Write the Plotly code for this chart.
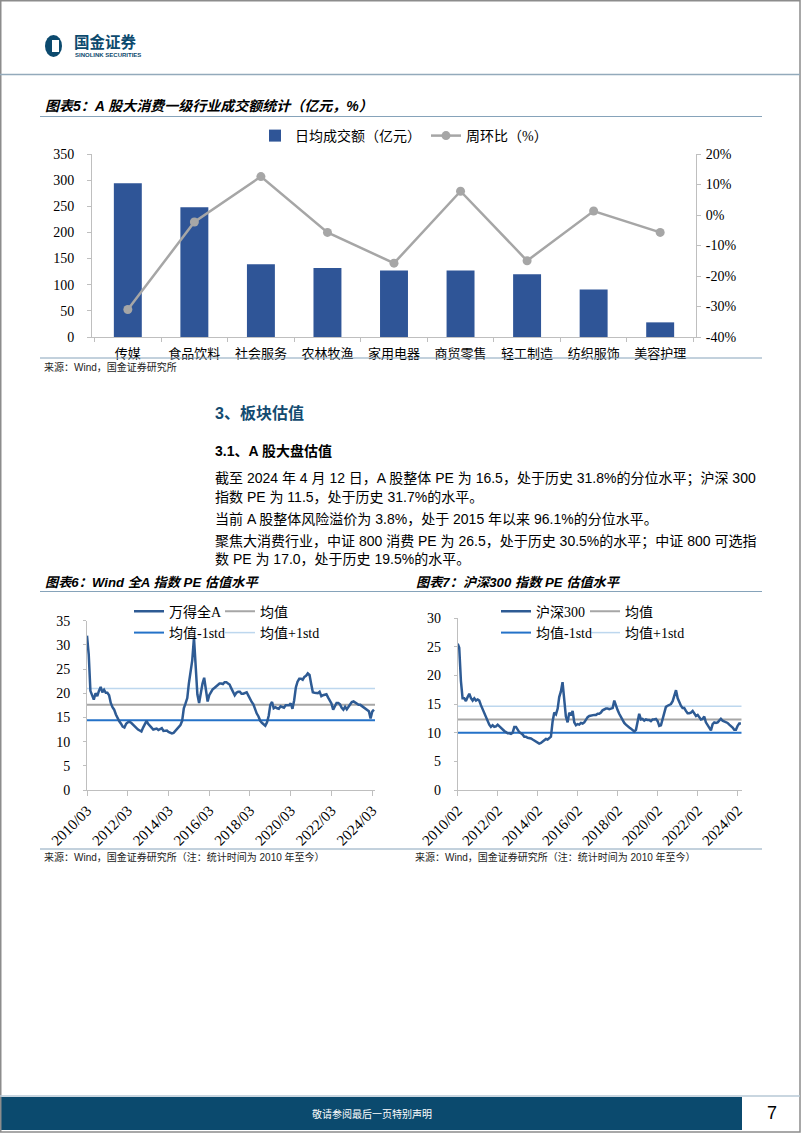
import plotly.graph_objects as go
import pandas as pd

W, H = 802, 1133

# ---------------- Chart 5 data ----------------
industries = ["传媒", "食品饮料", "社会服务", "农林牧渔", "家用电器", "商贸零售", "轻工制造", "纺织服饰", "美容护理"]
daily_turnover = [294, 248, 139, 132, 127, 127, 120, 91, 28]          # 亿元
wow_change = [-31.0, -2.3, 12.6, -5.7, -15.8, 7.8, -15.0, 1.3, -5.7]   # %
left_tickvals = [0, 50, 100, 150, 200, 250, 300, 350]
right_tickvals = [-40, -30, -20, -10, 0, 10, 20]
right_ticktext = ["-40%", "-30%", "-20%", "-10%", "0%", "10%", "20%"]

# ---------------- Chart 6 data (Wind 全A PE, monthly from 2010/03) ----------------
wind_start = "2010-03-01"
wind_pe = [
    31.9, 28.0, 20.5, 19.6, 18.7, 20.0, 19.4, 20.5, 21.3, 20.2,
    20.7, 20.1, 20.1, 19.6, 18.0, 17.1, 16.6, 15.6, 14.7, 14.2,
    13.7, 13.1, 12.9, 13.7, 14.0, 14.1, 13.9, 13.5, 13.1, 12.8,
    12.5, 12.3, 12.1, 12.9, 13.6, 14.3, 13.7, 13.2, 12.9, 12.5,
    12.6, 12.7, 12.4, 12.6, 12.8, 12.2, 12.3, 12.3, 12.0, 11.8,
    11.7, 11.8, 12.2, 12.7, 13.1, 13.4, 14.3, 16.9, 17.9, 19.0,
    22.0, 25.0, 26.8, 31.5, 24.3, 19.8, 18.0, 20.5, 22.0, 23.2,
    20.3, 18.3, 19.6, 20.4, 20.8, 21.1, 21.4, 21.7, 22.0, 22.0,
    21.9, 22.3, 22.3, 22.0, 21.8, 21.0, 20.2, 19.6, 20.1, 20.3,
    20.3, 19.9, 19.9, 20.1, 20.2, 19.5, 18.7, 18.2, 17.7, 16.7,
    15.8, 15.2, 14.3, 13.9, 13.6, 13.3, 14.0, 15.4, 17.6, 18.2,
    16.9, 17.1, 16.9, 16.8, 17.3, 17.1, 17.0, 17.5, 17.5, 17.5,
    17.9, 16.8, 18.5, 21.2, 22.4, 23.0, 23.0, 22.8, 23.4, 23.6,
    24.1, 23.8, 22.0, 20.2, 20.1, 20.1, 20.0, 20.3, 19.4, 19.6,
    19.7, 19.8, 19.1, 18.6, 17.9, 16.6, 17.5, 18.0, 18.0, 17.7,
    17.0, 16.6, 17.2, 16.7, 17.2, 17.9, 18.2, 18.3, 18.1, 17.8,
    17.6, 17.6, 17.3, 17.1, 16.9, 16.6, 16.3, 14.8, 16.2, 16.6,
]
wind_mean, wind_minus_std, wind_plus_std = 17.6, 14.4, 21.0
wind_xrange = ["2010-03-01", "2024-04-20"]
wind_tickvals = ["2010-03-01", "2012-03-01", "2014-03-01", "2016-03-01",
                 "2018-03-01", "2020-03-01", "2022-03-01", "2024-03-01"]
wind_ticktext = ["2010/03", "2012/03", "2014/03", "2016/03",
                 "2018/03", "2020/03", "2022/03", "2024/03"]

# ---------------- Chart 7 data (沪深300 PE, monthly from 2010/02) ----------------
hs_start = "2010-02-01"
hs300_pe = [
    25.5, 24.8, 19.0, 16.0, 16.0, 15.5, 16.2, 16.8, 16.0, 15.6,
    16.0, 15.6, 15.8, 15.6, 14.8, 14.1, 13.6, 12.9, 11.9, 11.4,
    11.0, 11.3, 11.0, 11.1, 11.4, 11.1, 10.9, 10.6, 10.3, 10.1,
    9.9, 9.9, 9.8, 10.0, 11.0, 11.0, 10.5, 10.1, 9.9, 9.7,
    9.3, 9.3, 9.1, 9.1, 9.0, 8.8, 8.6, 8.5, 8.2, 8.1,
    8.2, 8.4, 8.6, 8.9, 8.8, 9.0, 9.3, 12.0, 13.5, 13.2,
    14.2, 16.2, 17.2, 18.8, 15.0, 12.8, 11.8, 13.5, 13.0, 13.8,
    11.8, 11.3, 11.5, 11.4, 11.7, 11.6, 11.8, 12.3, 12.7, 12.9,
    13.0, 13.0, 13.1, 13.1, 13.3, 13.3, 13.5, 13.9, 14.1, 14.2,
    14.2, 14.1, 14.2, 14.3, 15.6, 14.6, 13.9, 13.3, 12.7, 12.1,
    11.7, 11.4, 11.1, 10.9, 10.7, 10.4, 10.2, 10.5, 12.0, 13.3,
    12.3, 12.4, 12.1, 12.3, 12.2, 12.2, 12.0, 12.3, 12.3, 12.4,
    12.0, 11.2, 11.3, 12.3, 13.6, 14.5, 14.7, 14.8, 15.0, 15.5,
    16.5, 17.4, 16.0, 15.2, 14.7, 14.3, 14.3, 13.8, 13.4, 13.4,
    13.5, 13.8, 13.3, 12.9, 13.1, 12.8, 12.3, 12.4, 12.8, 11.8,
    11.3, 10.9, 10.4, 11.5, 11.8, 11.7, 11.8, 12.1, 12.4, 12.1,
    12.0, 11.9, 11.7, 11.4, 11.2, 10.9, 10.5, 10.5, 11.2, 11.6,
    11.6,
]
hs_mean, hs_minus_std, hs_plus_std = 12.3, 10.0, 14.6
hs_xrange = ["2010-02-01", "2024-04-15"]
hs_tickvals = ["2010-02-01", "2012-02-01", "2014-02-01", "2016-02-01",
               "2018-02-01", "2020-02-01", "2022-02-01", "2024-02-01"]
hs_ticktext = ["2010/02", "2012/02", "2014/02", "2016/02",
               "2018/02", "2020/02", "2022/02", "2024/02"]

wind_dates = pd.date_range(wind_start, periods=len(wind_pe), freq="MS")
hs_dates = pd.date_range(hs_start, periods=len(hs300_pe), freq="MS")

# ---------------- helpers ----------------
def X(px):
    return px / W

def Y(py):
    return 1 - py / H

SERIF = "Liberation Serif, Noto Sans CJK SC"
SANS = "Liberation Sans, Noto Sans CJK SC"
CJK = "Noto Sans CJK SC"
NAVY = "#0C4A6E"
RULE = "#86A3BA"
AXIS = "#BFBFBF"
SERIES = "#2E5B94"
MEANC = "#A6A6A6"
MINUSC = "#2472C8"
PLUSC = "#BDD7EE"

fig = go.Figure()

# ---------------- Chart 5 traces ----------------
fig.add_trace(go.Bar(x=industries, y=daily_turnover, name="日均成交额（亿元）",
                     marker=dict(color="#2F5597", line=dict(width=0)), width=0.42,
                     xaxis="x", yaxis="y", legend="legend"))
fig.add_trace(go.Scatter(x=industries, y=wow_change, name="周环比（%）", mode="lines+markers",
                         line=dict(color=MEANC, width=2.5), marker=dict(size=9, color=MEANC),
                         xaxis="x", yaxis="y2", legend="legend"))

# ---------------- Chart 6 / 7 traces ----------------
def hline_trace(xr, val, name, color, width, xa, ya, lg):
    return go.Scatter(x=xr, y=[val, val], mode="lines", name=name,
                      line=dict(color=color, width=width), xaxis=xa, yaxis=ya,
                      legend=lg, hoverinfo="skip")

fig.add_trace(hline_trace(wind_xrange, wind_plus_std, "均值+1std", PLUSC, 1.5, "x3", "y3", "legend5"))
fig.add_trace(hline_trace(wind_xrange, wind_mean, "均值", MEANC, 2, "x3", "y3", "legend3"))
fig.add_trace(hline_trace(wind_xrange, wind_minus_std, "均值-1std", MINUSC, 2, "x3", "y3", "legend4"))
fig.add_trace(go.Scatter(x=wind_dates, y=wind_pe, mode="lines", name="万得全A",
                         line=dict(color=SERIES, width=2.5), xaxis="x3", yaxis="y3",
                         legend="legend2"))

fig.add_trace(hline_trace(hs_xrange, hs_plus_std, "均值+1std", PLUSC, 1.5, "x4", "y4", "legend9"))
fig.add_trace(hline_trace(hs_xrange, hs_mean, "均值", MEANC, 2, "x4", "y4", "legend7"))
fig.add_trace(hline_trace(hs_xrange, hs_minus_std, "均值-1std", MINUSC, 2, "x4", "y4", "legend8"))
fig.add_trace(go.Scatter(x=hs_dates, y=hs300_pe, mode="lines", name="沪深300",
                         line=dict(color=SERIES, width=2.5), xaxis="x4", yaxis="y4",
                         legend="legend6"))

# ---------------- axes ----------------
tickfont = dict(family=SERIF, size=14, color="#000000")
datefont = dict(family=SERIF, size=15, color="#000000")
common_axis = dict(showline=True, linecolor=AXIS, linewidth=1, showgrid=False, zeroline=False,
                   ticks="outside", tickcolor=AXIS, ticklen=4, tickfont=tickfont, automargin=False)

layout_axes = dict(
    xaxis=dict(common_axis, domain=[X(92), X(696)], anchor="y", type="category",
               tickson="boundaries", tickfont=dict(family=CJK, size=13, color="#000"),
               ticklabelstandoff=4),
    yaxis=dict(common_axis, domain=[Y(337), Y(154)], anchor="x", range=[0, 350],
               tickvals=left_tickvals, ticklabelstandoff=10),
    yaxis2=dict(common_axis, overlaying="y", side="right", anchor="x", range=[-40, 20],
                tickvals=right_tickvals, ticktext=right_ticktext, ticklabelstandoff=2),
    xaxis3=dict(common_axis, domain=[X(87), X(375)], anchor="y3", type="date",
                range=wind_xrange, tickvals=wind_tickvals, ticktext=wind_ticktext,
                tickangle=-45, ticklen=5, tickfont=datefont),
    yaxis3=dict(common_axis, domain=[Y(790), Y(620.7)], anchor="x3", range=[0, 35],
                dtick=5, ticklen=3, ticklabelstandoff=10),
    xaxis4=dict(common_axis, domain=[X(457.7), X(741.7)], anchor="y4", type="date",
                range=hs_xrange, tickvals=hs_tickvals, ticktext=hs_ticktext,
                tickangle=-45, ticklen=5, tickfont=datefont),
    yaxis4=dict(common_axis, domain=[Y(790), Y(618)], anchor="x4", range=[0, 30],
                dtick=5, ticklen=3, ticklabelstandoff=10),
)

legfont = dict(family=SERIF, size=14, color="#000")
def leg(xpx, ypx, ew=None):
    d = dict(orientation="h", x=X(xpx), y=Y(ypx), xanchor="left", yanchor="middle",
             bgcolor="rgba(0,0,0,0)", font=legfont, traceorder="normal", itemwidth=30)
    if ew is not None:
        d.update(entrywidth=ew, entrywidthmode="pixels")
    return d

# ---------------- text annotations ----------------
ann = []
def text(xpx, ypx, s, size=14, color="#000", family=SANS, xanchor="left"):
    ann.append(dict(x=X(xpx), y=Y(ypx), xref="paper", yref="paper", text=s, showarrow=False,
                    xanchor=xanchor, yanchor="middle", font=dict(family=family, size=size, color=color)))

# header
text(72, 41.5, "<b>国金证券</b>", 15.5, NAVY, CJK)
text(73, 55, "<b>SINOLINK SECURITIES</b>", 6, NAVY, "Liberation Sans")

# chart 5 title + source
text(43, 106, "<b><i>图表5：A 股大消费一级行业成交额统计（亿元，%）</i></b>", 14, "#000", SANS)
text(42, 367, "来源：Wind，国金证券研究所", 10, "#222", SANS)

# section text
text(213, 413, "<b>3、板块估值</b>", 16, "#134B70", SANS)
text(213, 451, "<b>3.1、A 股大盘估值</b>", 14, "#000", SANS)
body = [
    (478, "截至 2024 年 4 月 12 日，A 股整体 PE 为 16.5，处于历史 31.8%的分位水平；沪深 300"),
    (497, "指数 PE 为 11.5，处于历史 31.7%的水平。"),
    (519, "当前 A 股整体风险溢价为 3.8%，处于 2015 年以来 96.1%的分位水平。"),
    (541, "聚焦大消费行业，中证 800 消费 PE 为 26.5，处于历史 30.5%的水平；中证 800 可选指"),
    (559, "数 PE 为 17.0，处于历史 19.5%的水平。"),
]
for yy, s in body:
    text(213, yy, s, 14, "#000", SANS)

# chart 6/7 titles + sources
text(43, 582, "<b><i>图表6：Wind 全A 指数 PE 估值水平</i></b>", 13.2, "#000", SANS)
text(414, 582, "<b><i>图表7：沪深300 指数 PE 估值水平</i></b>", 13.2, "#000", SANS)
text(42, 857, "来源：Wind，国金证券研究所（注：统计时间为 2010 年至今）", 10, "#222", SANS)
text(413, 857, "来源：Wind，国金证券研究所（注：统计时间为 2010 年至今）", 10, "#222", SANS)

# footer
text(372, 1113.5, "敬请参阅最后一页特别声明", 10, "#FFFFFF", CJK, "center")
text(772, 1113, "7", 18, "#000", "Liberation Sans", "center")

# ---------------- shapes ----------------
shapes = []
def line(x0, y0, x1, y1, color, width=1):
    shapes.append(dict(type="line", xref="paper", yref="paper", x0=X(x0), y0=Y(y0), x1=X(x1), y1=Y(y1),
                       line=dict(color=color, width=width)))
def rect(x0, y0, x1, y1, fill, lc=None, lw=0):
    shapes.append(dict(type="rect", xref="paper", yref="paper", x0=X(x0), y0=Y(y0), x1=X(x1), y1=Y(y1),
                       fillcolor=fill, line=dict(color=lc or fill, width=lw), layer="below"))

# page border
shapes.append(dict(type="rect", xref="paper", yref="paper", x0=X(0.75), y0=Y(1132), x1=X(800), y1=Y(0.75),
                   line=dict(color="#8C8C8C", width=1.5), fillcolor="rgba(0,0,0,0)"))
# header rule
line(0, 74.5, 800, 74.5, "#93AABB", 1.5)
# logo
shapes.append(dict(type="circle", xref="paper", yref="paper", x0=X(45), y0=Y(57), x1=X(62), y1=Y(35),
                   fillcolor=NAVY, line=dict(color=NAVY, width=0)))
shapes.append(dict(type="rect", xref="paper", yref="paper", x0=X(52), y0=Y(52), x1=X(59), y1=Y(40),
                   fillcolor="#FFFFFF", line=dict(color="#FFFFFF", width=0)))
# chart rules
line(40, 116.5, 762, 116.5, RULE)
line(40, 358, 762, 358, RULE)
line(40, 591.5, 762, 591.5, RULE)
line(40, 849, 762, 849, RULE)
# footer
line(0, 1096, 800, 1096, "#B7C8D6", 1.5)
rect(1, 1097, 742, 1130, "#0B4A6E")

fig.update_layout(
    width=W, height=H, margin=dict(l=0, r=0, t=0, b=0, autoexpand=False),
    paper_bgcolor="#FFFFFF", plot_bgcolor="rgba(0,0,0,0)",
    showlegend=True, bargap=0.58,
    legend=leg(255, 136, 126),
    legend2=leg(129, 611.7),
    legend3=leg(220, 611.7),
    legend4=leg(129, 633),
    legend5=leg(220, 633),
    legend6=leg(496, 611.7),
    legend7=leg(585, 611.7),
    legend8=leg(496, 633),
    legend9=leg(585, 633),
    annotations=ann, shapes=shapes,
    **layout_axes,
)

fig.write_html("out.html", config={"displayModeBar": False},
               post_script="document.body.style.margin='0';document.body.style.overflow='hidden';")
